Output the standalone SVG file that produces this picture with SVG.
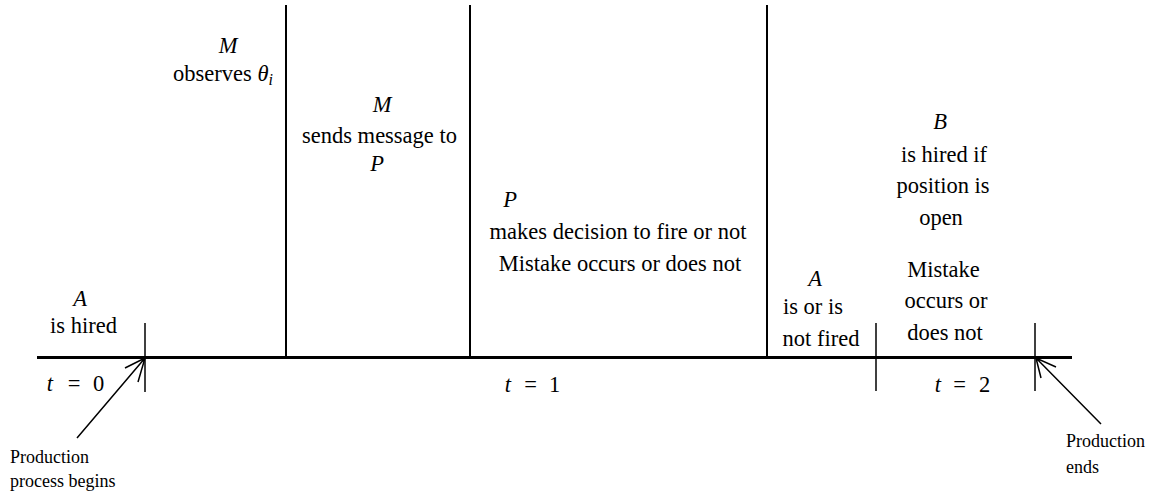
<svg xmlns="http://www.w3.org/2000/svg" width="1159" height="493" viewBox="0 0 1159 493">
<defs>
<style>
text{fill:#000}
.lg{font-size:22.5px;text-anchor:middle}
.sm{font-size:18px}
.it{font-style:italic}
.ax{stroke:#000;stroke-width:3;fill:none}
.vl{stroke:#000;stroke-width:2;fill:none}
.tk{stroke:#000;stroke-width:1.5;fill:none}
.ar{stroke:#000;stroke-width:1.5;fill:none}
</style>
</defs>
<rect width="1159" height="493" fill="#fff"/>
<g id="connectors">
<line class="ax" x1="37" y1="357.5" x2="1072" y2="357.5"/>
<line class="vl" x1="286" y1="5" x2="286" y2="357"/>
<line class="vl" x1="470" y1="5" x2="470" y2="357"/>
<line class="vl" x1="767" y1="5" x2="767" y2="357"/>
<line class="tk" x1="145" y1="323" x2="145" y2="392"/>
<line class="tk" x1="876" y1="323" x2="876" y2="391"/>
<line class="tk" x1="1035" y1="323" x2="1035" y2="391"/>
<path class="ar" d="M77 438 L145 358 M125 368 L145 358 L138 382"/>
<path class="ar" d="M1101 424 L1036 358 M1056 367 L1036 358 L1041 378"/>
</g>
<g font-family="Liberation Serif, Times New Roman, Times, DejaVu Serif, serif">
<g id="node-a-hired">
<text class="lg it" x="80" y="306">A</text>
<text class="lg" x="83.5" y="333">is hired</text>
</g>
<g id="node-m-observes">
<text class="lg it" x="228" y="53">M</text>
<text class="lg" x="223" y="81">observes <tspan class="it">θ</tspan><tspan class="it" font-size="16" dy="4">i</tspan></text>
</g>
<g id="node-m-sends">
<text class="lg it" x="382" y="112">M</text>
<text class="lg" x="379.5" y="143">sends message to</text>
<text class="lg it" x="377" y="171">P</text>
</g>
<g id="node-p-decides">
<text class="lg it" x="510" y="207">P</text>
<text class="lg" x="618" y="239">makes decision to fire or not</text>
<text class="lg" x="620" y="271">Mistake occurs or does not</text>
</g>
<g id="node-a-fired">
<text class="lg it" x="815" y="286">A</text>
<text class="lg" x="813" y="314">is or is</text>
<text class="lg" x="821" y="346">not fired</text>
</g>
<g id="node-b-hired">
<text class="lg it" x="940" y="129">B</text>
<text class="lg" x="944" y="162">is hired if</text>
<text class="lg" x="943" y="193">position is</text>
<text class="lg" x="941" y="225">open</text>
<text class="lg" x="943.5" y="277">Mistake</text>
<text class="lg" x="946" y="308">occurs or</text>
<text class="lg" x="945" y="340">does not</text>
</g>
<g id="time-labels">
<text class="lg it" x="50" y="391">t</text>
<text class="lg" x="74" y="391">=</text>
<text class="lg" x="98.5" y="391">0</text>
<text class="lg it" x="508" y="392">t</text>
<text class="lg" x="530.5" y="392">=</text>
<text class="lg" x="554.5" y="392">1</text>
<text class="lg it" x="938" y="392">t</text>
<text class="lg" x="959.5" y="392">=</text>
<text class="lg" x="984.5" y="392">2</text>
</g>
<g id="node-production-begins">
<text class="sm" x="10" y="463">Production</text>
<text class="sm" x="10" y="487">process begins</text>
</g>
<g id="node-production-ends">
<text class="sm" x="1066" y="447">Production</text>
<text class="sm" x="1066" y="473">ends</text>
</g>
</g>
</svg>
